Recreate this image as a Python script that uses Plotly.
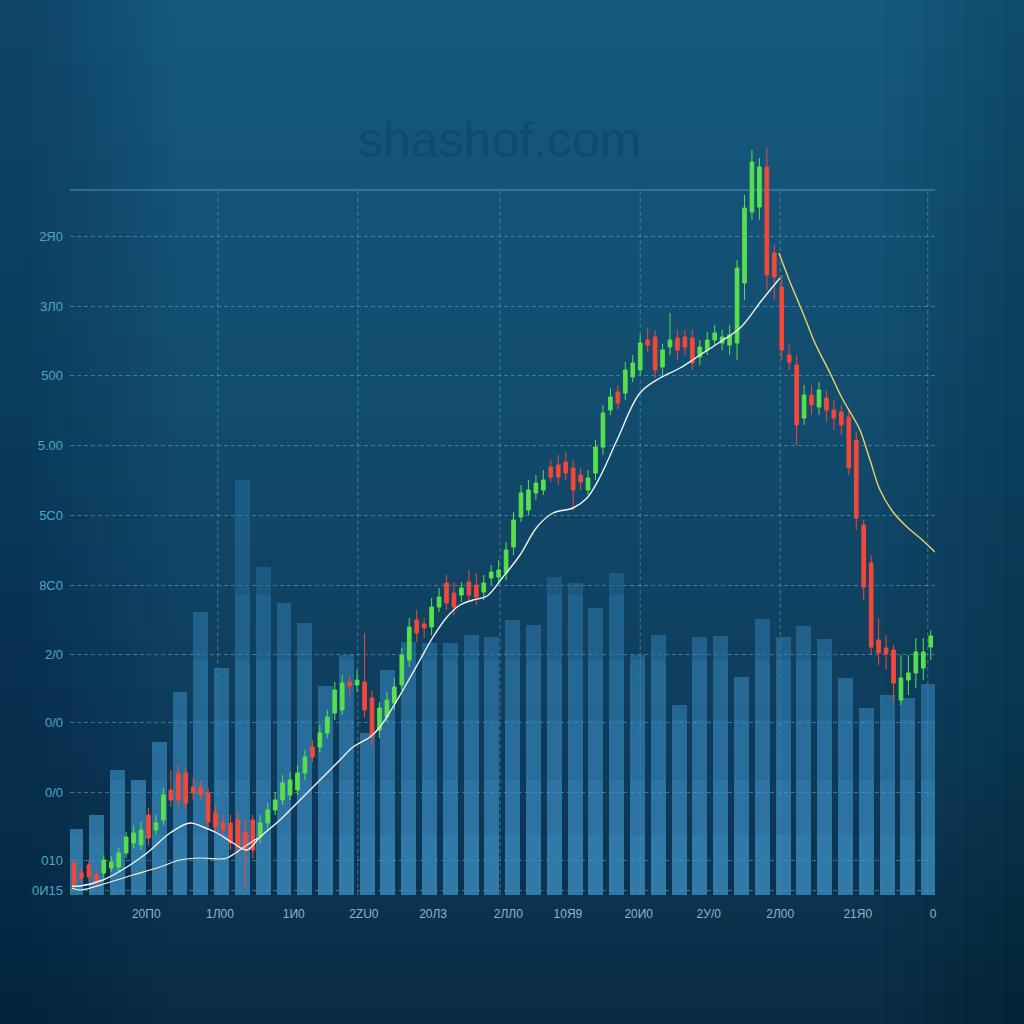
import plotly.graph_objects as go

# ---------------- data ----------------
days = list(range(116))
open_ = [37, 27, 35, 25, 27, 32, 33, 47, 57, 55,
         85, 70, 80, 110, 127, 127, 113, 113, 107, 87,
         77, 77, 80, 68, 80, 63, 77, 90, 100, 105,
         110, 127, 153, 153, 167, 187, 190, 218, 215, 218,
         202, 170, 183, 197, 215, 240, 280, 276, 273, 293,
         317, 307, 305, 318, 315, 308, 322, 323, 327, 353,
         383, 390, 407, 410, 433, 435, 438, 432, 425, 410,
         427, 453, 490, 508, 507, 523, 530, 560, 563, 533,
         553, 562, 563, 562, 543, 550, 560, 557, 555, 557,
         617, 688, 693, 733, 647, 613, 545, 535, 482, 505,
         493, 502, 490, 488, 483, 460, 375, 337, 260, 252,
         250, 200, 220, 227, 232, 253]
high = [42, 32, 40, 30, 45, 44, 52, 68, 75, 78,
        92, 85, 112, 130, 135, 132, 122, 120, 112, 95,
        85, 85, 88, 80, 85, 85, 97, 108, 125, 128,
        135, 150, 160, 175, 190, 218, 225, 225, 230, 267,
        210, 198, 208, 222, 252, 282, 290, 282, 302, 312,
        325, 318, 318, 330, 327, 325, 335, 340, 358, 388,
        415, 420, 425, 430, 440, 445, 448, 440, 432, 430,
        460, 495, 512, 515, 538, 545, 565, 572, 570, 556,
        587, 570, 570, 570, 560, 568, 575, 570, 575, 640,
        705, 750, 742, 753, 655, 625, 555, 545, 515, 515,
        518, 510, 500, 495, 490, 468, 380, 345, 282, 265,
        255, 245, 245, 262, 262, 270]
low = [10, 17, 18, 14, 22, 28, 28, 42, 52, 50,
       55, 65, 75, 93, 92, 90, 100, 100, 72, 68,
       62, 50, 45, 12, 42, 57, 70, 85, 95, 100,
       105, 120, 138, 148, 162, 180, 185, 205, 208, 182,
       155, 162, 178, 190, 210, 233, 258, 262, 265, 288,
       290, 285, 298, 298, 295, 300, 315, 318, 320, 345,
       378, 385, 400, 405, 418, 415, 420, 390, 410, 405,
       420, 445, 485, 490, 500, 518, 525, 548, 522, 525,
       545, 540, 545, 530, 535, 545, 555, 550, 545, 540,
       600, 680, 680, 610, 600, 540, 530, 455, 475, 485,
       485, 478, 470, 465, 425, 370, 300, 245, 235, 230,
       198, 195, 205, 212, 220, 240]
close = [15, 22, 23, 18, 40, 38, 47, 63, 67, 70,
         62, 77, 105, 100, 100, 97, 107, 105, 78, 73,
         70, 57, 53, 50, 50, 77, 90, 100, 117, 120,
         127, 143, 143, 167, 183, 210, 217, 214, 220, 190,
         163, 192, 200, 213, 245, 273, 267, 272, 293, 303,
         297, 293, 312, 305, 303, 317, 328, 330, 350, 380,
         407, 410, 417, 420, 423, 423, 427, 410, 418, 422,
         453, 487, 503, 497, 530, 537, 557, 555, 530, 550,
         560, 550, 553, 537, 553, 560, 567, 563, 565, 632,
         692, 738, 733, 625, 623, 550, 538, 475, 505, 495,
         510, 490, 482, 475, 432, 382, 313, 253, 247, 246,
         217, 222, 227, 248, 248, 264]

vol_idx = list(range(42))
volume = [66, 80, 125, 115, 153, 203, 283, 227, 415, 328,
          292, 272, 209, 240, 162, 225, 253, 252, 252, 260,
          258, 275, 270, 318, 312, 287, 322, 240, 260, 190,
          258, 259, 218, 276, 258, 269, 256, 217, 187, 200,
          197, 211]

ma_fast_x = [-0.27, 0.81, 3.89, 7.11, 9.80, 12.89, 15.57, 17.32, 19.19, 21.34,
             23.22, 24.97, 27.65, 30.34, 33.02, 35.70, 37.45, 39.73, 41.07, 42.82,
             44.70, 46.44, 48.19, 50.07, 51.81, 53.56, 55.44, 57.58, 59.87, 62.15,
             64.30, 66.98, 68.86, 70.60, 72.89, 75.97, 78.66, 81.34, 84.03, 86.71,
             89.40, 92.35, 94.77]
ma_fast = [14, 14, 20, 33, 47, 67, 77, 73, 67, 57,
           50, 63, 80, 100, 120, 140, 153, 163, 173, 193,
           217, 240, 263, 283, 295, 300, 304, 323, 345, 373,
           387, 392, 402, 423, 460, 507, 522, 532, 545, 558,
           572, 600, 622]
ma_slow_x = [-0.27, 0.81, 4.43, 7.92, 11.54, 14.23, 16.91, 19.60, 20.54, 21.88, 23.22, 24.70]
ma_slow = [12, 10, 17, 25, 33, 40, 42, 41, 42, 48, 55, 62]
ma_down_x = [94.63, 96.11, 97.85, 99.46, 101.48, 103.09, 104.56, 105.50, 106.85,
             108.19, 109.93, 111.81, 113.56, 115.57]
ma_down = [647, 618, 587, 557, 527, 502, 483, 470, 440, 410, 388, 373, 362, 348]

y_tickvals = [664, 594, 525, 455, 385, 315, 246, 178, 108, 40, 10]
y_ticktext = ["2Я0", "3Л0", "500", "5.00", "5С0", "8С0", "2/0", "0/0", "0/0", "010", "0И15"]
x_tickvals = [9.7, 19.6, 29.5, 38.9, 48.2, 58.3, 66.3, 75.8, 85.2, 94.8, 105.2, 115.3]
x_ticktext = ["20П0", "1Л00", "1И0", "2ZU0", "20Л3", "2ЛЛ0", "10Я9", "20И0", "2У/0", "2Л00", "21Я0", "0"]
grid_x = [19.3, 38.1, 57.2, 76.0, 94.8, 114.6]

# ---------------- figure ----------------
fig = go.Figure()

# volume bars with layered shading (darker top, brighter bottom)
fig.add_trace(go.Bar(x=vol_idx, y=volume, width=0.72, xaxis="x", yaxis="y",
                     marker=dict(color="rgba(38,112,162,0.5)", line=dict(width=0)),
                     hoverinfo="skip", showlegend=False))
for lvl in [300, 235, 175, 115, 60]:
    fig.add_trace(go.Bar(x=vol_idx, y=[min(v, lvl) for v in volume], width=0.72,
                         xaxis="x", yaxis="y",
                         marker=dict(color="rgba(80,170,225,0.11)", line=dict(width=0)),
                         hoverinfo="skip", showlegend=False))

fig.add_trace(go.Candlestick(x=days, open=open_, high=high, low=low, close=close,
                             xaxis="x2", yaxis="y2", whiskerwidth=0,
                             increasing=dict(line=dict(color="#58e04c", width=1), fillcolor="#58e04c"),
                             decreasing=dict(line=dict(color="#f2483a", width=1), fillcolor="#f2483a"),
                             showlegend=False))

fig.add_trace(go.Scatter(x=ma_slow_x, y=ma_slow, mode="lines", xaxis="x2", yaxis="y2",
                         line=dict(color="#f2f0dc", width=1.2, shape="spline"), showlegend=False))
fig.add_trace(go.Scatter(x=ma_fast_x, y=ma_fast, mode="lines", xaxis="x2", yaxis="y2",
                         line=dict(color="#eef4f2", width=1.4, shape="spline"), showlegend=False))
fig.add_trace(go.Scatter(x=ma_down_x, y=ma_down, mode="lines", xaxis="x2", yaxis="y2",
                         line=dict(color="#e8d46c", width=1.4, shape="spline"), showlegend=False))

# background gradient
shapes = []
stops = [(0, (22, 90, 128)), (400, (18, 76, 110)), (800, (14, 57, 88)), (1024, (10, 42, 68))]
def col_at(py):
    for (a, ca), (b, cb) in zip(stops[:-1], stops[1:]):
        if a <= py <= b:
            t = (py - a) / (b - a)
            return tuple(round(ca[k] + (cb[k] - ca[k]) * t) for k in range(3))
    return stops[-1][1]
n = 64
for k in range(n):
    py0 = 1024 * k / n
    py1 = 1024 * (k + 1) / n
    c = col_at((py0 + py1) / 2)
    shapes.append(dict(type="rect", xref="paper", yref="paper", layer="below",
                       x0=-0.09, x1=1.11, y0=(895 - py1 - 1) / 755, y1=(895 - py0) / 755,
                       fillcolor="rgb(%d,%d,%d)" % c, line=dict(width=0)))
for k in range(8):
    w = 170 - 20 * k
    shapes.append(dict(type="rect", xref="paper", yref="paper", layer="below",
                       x0=-0.09, x1=(w - 70) / 865, y0=-0.2, y1=1.2,
                       fillcolor="rgba(5,25,45,0.04)", line=dict(width=0)))
    shapes.append(dict(type="rect", xref="paper", yref="paper", layer="below",
                       x0=(1024 - w + 30 - 70) / 865, x1=1.11, y0=-0.2, y1=1.2,
                       fillcolor="rgba(5,25,45,0.03)", line=dict(width=0)))
# vertical dashed grid
for gx in grid_x:
    shapes.append(dict(type="line", xref="x2", yref="y2", layer="below",
                       x0=gx, x1=gx, y0=5, y1=710,
                       line=dict(color="rgba(110,180,210,0.5)", width=1, dash="4px,3px")))
# top solid line
shapes.append(dict(type="line", xref="paper", yref="y2", layer="below",
                   x0=0, x1=1, y0=710, y1=710,
                   line=dict(color="rgba(95,175,210,0.75)", width=1.2)))

fig.update_layout(
    width=1024, height=1024,
    margin=dict(l=70, r=89, t=140, b=129),
    paper_bgcolor="#0f3a5a", plot_bgcolor="rgba(0,0,0,0)",
    barmode="overlay", bargap=0,
    shapes=shapes,
    showlegend=False,
    font=dict(family="Liberation Sans, Arial, sans-serif"),
    xaxis=dict(range=[-0.288, 41.3], visible=False, fixedrange=True),
    yaxis=dict(range=[0, 755], visible=False, fixedrange=True),
    xaxis2=dict(overlaying="x", range=[-0.537, 115.57], rangeslider=dict(visible=False),
                showgrid=False, zeroline=False, showline=False,
                tickmode="array", tickvals=x_tickvals, ticktext=x_ticktext,
                ticks="", ticklabelstandoff=10,
                tickfont=dict(size=12, color="rgb(140,180,206)")),
    yaxis2=dict(overlaying="y", side="left", range=[5, 760],
                tickmode="array", tickvals=y_tickvals, ticktext=y_ticktext,
                showgrid=True, gridcolor="rgba(110,180,210,0.5)", gridwidth=1, griddash="4px,3px",
                zeroline=False, showline=False, ticks="", ticklabelstandoff=6,
                tickfont=dict(size=13, color="rgb(82,165,200)")),
    annotations=[dict(text="shashof.com", xref="paper", yref="paper", x=0.497, y=1.0,
                      xanchor="center", yanchor="middle", showarrow=False,
                      font=dict(size=50, color="rgba(10,55,88,0.35)",
                                family="Liberation Sans, Arial, sans-serif"))],
)

fig.write_html("out.html", config={"displayModeBar": False},
               post_script="document.body.style.margin='0';document.body.style.background='#0f3a5a';")
